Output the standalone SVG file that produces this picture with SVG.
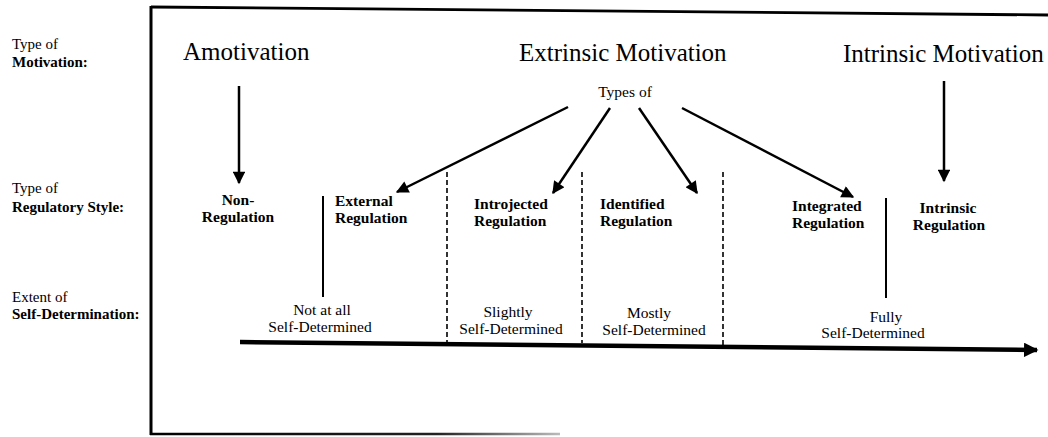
<svg xmlns="http://www.w3.org/2000/svg" width="1048" height="437" viewBox="0 0 1048 437">
<defs>
<style>
text{font-family:"Liberation Serif","Times New Roman",serif;fill:#000}
.side{font-size:15px}
.b{font-weight:bold}
.big{font-size:25px}
.lab{font-size:15.5px;font-weight:bold;font-family:"Liberation Serif","Times New Roman",serif}
.ext{font-size:15.5px;font-family:"Liberation Serif","Times New Roman",serif}
.conn{stroke:#000;stroke-width:2.5;fill:none}
.div{stroke:#000;stroke-width:2;fill:none}
.dash{stroke:#000;stroke-width:1.6;stroke-dasharray:5 3;fill:none}
</style>
<marker id="ah" viewBox="0 0 10 10" refX="9" refY="5" markerWidth="5.5" markerHeight="5" orient="auto" markerUnits="strokeWidth">
<path d="M0,0 L10,5 L0,10 z" fill="#000"/>
</marker>
<marker id="ahBig" viewBox="0 0 10 10" refX="9" refY="5" markerWidth="4" markerHeight="3.2" orient="auto" markerUnits="strokeWidth">
<path d="M0,0 L10,5 L0,10 z" fill="#000"/>
</marker>
<linearGradient id="fade" x1="150" y1="0" x2="560" y2="0" gradientUnits="userSpaceOnUse">
<stop offset="0" stop-color="#000"/>
<stop offset="0.7" stop-color="#222"/>
<stop offset="1" stop-color="#bbb"/>
</linearGradient>
</defs>

<g id="frame">
<path d="M151,7 L1048,15" stroke="#000" stroke-width="2.8" fill="none"/>
<path d="M151,6 L151,435" stroke="#000" stroke-width="3" fill="none"/>
<path d="M150,434 L560,434" stroke="url(#fade)" stroke-width="2.5" fill="none"/>
</g>

<g id="row-labels">
<text class="side" x="12" y="49">Type of</text>
<text class="side b" x="12" y="67">Motivation:</text>
<text class="side" x="12" y="193">Type of</text>
<text class="side b" x="12" y="212">Regulatory Style:</text>
<text class="side" x="12" y="302">Extent of</text>
<text class="side b" x="12" y="319">Self-Determination:</text>
</g>

<g id="amotivation"><text class="big" x="183" y="60">Amotivation</text></g>
<g id="extrinsic"><text class="big" x="519" y="61">Extrinsic Motivation</text></g>
<g id="intrinsic"><text class="big" x="843" y="62">Intrinsic Motivation</text></g>
<g id="types-of"><text class="ext" x="625" y="97" text-anchor="middle">Types of</text></g>

<g id="non-regulation">
<text class="lab" x="238" y="205" text-anchor="middle">Non-</text>
<text class="lab" x="238" y="222" text-anchor="middle">Regulation</text>
</g>
<g id="external-regulation">
<text class="lab" x="335" y="206">External</text>
<text class="lab" x="335" y="223">Regulation</text>
</g>
<g id="introjected-regulation">
<text class="lab" x="474" y="209">Introjected</text>
<text class="lab" x="474" y="226">Regulation</text>
</g>
<g id="identified-regulation">
<text class="lab" x="600" y="209">Identified</text>
<text class="lab" x="600" y="226">Regulation</text>
</g>
<g id="integrated-regulation">
<text class="lab" x="792" y="211">Integrated</text>
<text class="lab" x="792" y="228">Regulation</text>
</g>
<g id="intrinsic-regulation">
<text class="lab" x="948" y="213" text-anchor="middle">Intrinsic</text>
<text class="lab" x="949" y="230" text-anchor="middle">Regulation</text>
</g>

<g id="not-at-all">
<text class="ext" x="322" y="315" text-anchor="middle">Not at all</text>
<text class="ext" x="320" y="332" text-anchor="middle">Self-Determined</text>
</g>
<g id="slightly">
<text class="ext" x="508" y="317" text-anchor="middle">Slightly</text>
<text class="ext" x="511" y="334" text-anchor="middle">Self-Determined</text>
</g>
<g id="mostly">
<text class="ext" x="649" y="318" text-anchor="middle">Mostly</text>
<text class="ext" x="654" y="335" text-anchor="middle">Self-Determined</text>
</g>
<g id="fully">
<text class="ext" x="886" y="322" text-anchor="middle">Fully</text>
<text class="ext" x="873" y="338" text-anchor="middle">Self-Determined</text>
</g>

<g id="connectors">
<line class="conn" x1="239" y1="86" x2="239" y2="183" marker-end="url(#ah)"/>
<line class="conn" x1="944" y1="81" x2="944" y2="181" marker-end="url(#ah)"/>
<line class="conn" x1="568" y1="107" x2="397" y2="192" marker-end="url(#ah)"/>
<line class="conn" x1="610" y1="108" x2="553" y2="193" marker-end="url(#ah)"/>
<line class="conn" x1="639" y1="108" x2="697" y2="193" marker-end="url(#ah)"/>
<line class="conn" x1="682" y1="108" x2="853" y2="197" marker-end="url(#ah)"/>
<line class="div" x1="323" y1="196" x2="323" y2="297"/>
<line class="div" x1="886" y1="198" x2="886" y2="298"/>
<line class="dash" x1="447" y1="172" x2="447" y2="342"/>
<line class="dash" x1="582" y1="172" x2="582" y2="343"/>
<line class="dash" x1="723" y1="172" x2="723" y2="345"/>
<line stroke="#000" stroke-width="4.5" x1="240" y1="342" x2="1037" y2="350" marker-end="url(#ahBig)"/>
</g>
</svg>
